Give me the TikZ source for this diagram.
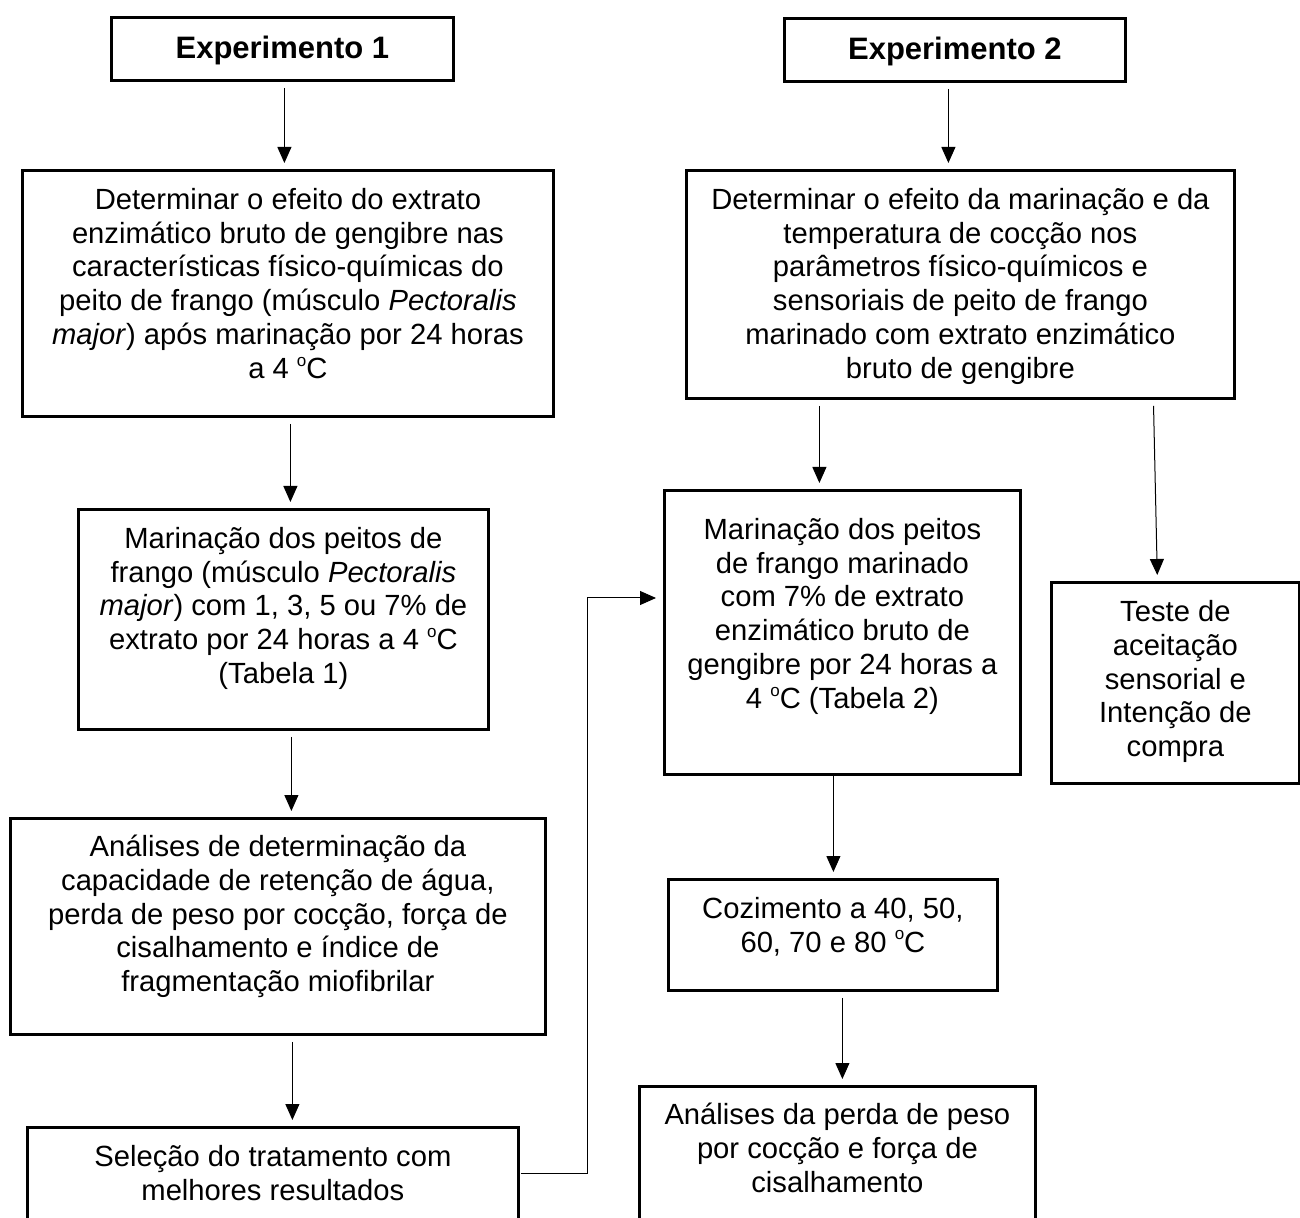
\documentclass[tikz,border=0pt]{standalone}
\usepackage{fontspec}
\setmainfont{Liberation Sans}
\usetikzlibrary{arrows.meta}
\newcommand{\fl}{\rule{0pt}{15pt}}
\newcommand{\dgc}{\raisebox{0.42em}{\fontsize{8.5}{8.5}\selectfont o}C}
\begin{document}
\begin{tikzpicture}[x=0.5pt,y=-0.5pt,
 box/.style={draw, line width=1.4pt, inner sep=0pt, anchor=north west},
 txt/.style={font=\fontsize{14.6}{16.9}\selectfont, align=center, inner sep=0pt, anchor=north},
 ttl/.style={font=\fontsize{15.5}{18}\selectfont\bfseries, inner sep=0pt, anchor=north},
 arr/.style={-{Triangle[length=8pt,width=7pt]}, line width=0.5pt, shorten <=3pt, shorten >=3pt}]
\clip (0,0) rectangle (1300,1218);
\fill[white] (0,0) rectangle (1300,1218);
% boxes
\node[box, minimum width=171pt, minimum height=31.5pt] (e1) at (110,16) {};
\node[box, minimum width=170.5pt, minimum height=31.5pt] (e2) at (783,17) {};
\node[box, minimum width=265.5pt, minimum height=123pt] (d1) at (21,169) {};
\node[box, minimum width=274pt, minimum height=114pt] (d2) at (685,169) {};
\node[box, minimum width=205pt, minimum height=110pt] (m1) at (77,508) {};
\node[box, minimum width=178pt, minimum height=142pt] (m2) at (663,489) {};
\node[box, minimum width=124pt, minimum height=100.5pt] (t) at (1050,581) {};
\node[box, minimum width=267.5pt, minimum height=108pt] (a1) at (9,817) {};
\node[box, minimum width=164.5pt, minimum height=55.5pt] (c) at (667,878) {};
\node[box, minimum width=245.5pt, minimum height=67pt] (s1) at (26,1126) {};
\node[box, minimum width=198pt, minimum height=87.5pt] (a2) at (638,1085) {};
% texts
\node[ttl] (e1t) at ([yshift=-6pt]e1.north) {\fl Experimento 1};
\node[ttl] (e2t) at ([yshift=-6pt]e2.north) {\fl Experimento 2};
\node[txt] (d1t) at ([yshift=-5pt]d1.north) {\fl Determinar o efeito do extrato\\
enzimático bruto de gengibre nas\\
características físico-químicas do\\
peito de frango (músculo \textit{Pectoralis}\\
\textit{major}) após marinação por 24 horas\\
a 4 \dgc};
\node[txt] (d2t) at ([yshift=-5pt]d2.north) {\fl Determinar o efeito da marinação e da\\
temperatura de cocção nos\\
parâmetros físico-químicos e\\
sensoriais de peito de frango\\
marinado com extrato enzimático\\
bruto de gengibre};
\node[txt] (m1t) at ([yshift=-5pt]m1.north) {\fl Marinação dos peitos de\\
frango (músculo \textit{Pectoralis}\\
\textit{major}) com 1, 3, 5 ou 7\% de\\
extrato por 24 horas a 4 \dgc\\
(Tabela 1)};
\node[txt] (m2t) at ([yshift=-10pt]m2.north) {\fl Marinação dos peitos\\
de frango marinado\\
com 7\% de extrato\\
enzimático bruto de\\
gengibre por 24 horas a\\
4 \dgc{} (Tabela 2)};
\node[txt] (tt) at ([yshift=-5pt]t.north) {\fl Teste de\\
aceitação\\
sensorial e\\
Intenção de\\
compra};
\node[txt] (a1t) at ([yshift=-4.5pt]a1.north) {\fl Análises de determinação da\\
capacidade de retenção de água,\\
perda de peso por cocção, força de\\
cisalhamento e índice de\\
fragmentação miofibrilar};
\node[txt] (ct) at ([yshift=-5pt]c.north) {\fl Cozimento a 40, 50,\\
60, 70 e 80 \dgc};
\node[txt] (s1t) at ([yshift=-5pt]s1.north) {\fl Seleção do tratamento com\\
melhores resultados};
\node[txt] (a2t) at ([yshift=-4.5pt]a2.north) {\fl Análises da perda de peso\\
por cocção e força de\\
cisalhamento};
% arrows
\draw[arr] ([xshift=1pt]e1.south) -- ([xshift=-1.75pt]d1.north);
\draw[arr] ([xshift=-3.25pt]e2.south) -- ([xshift=-6pt]d2.north);
\draw[arr] ([xshift=1.25pt]d1.south) -- ([xshift=3.5pt]m1.north);
\draw[arr] ([xshift=4pt]m1.south) -- ([xshift=6.75pt]a1.north);
\draw[arr] ([xshift=7.25pt]a1.south) -- ([xshift=9.75pt]s1.north);
\draw[arr] ([xshift=-70.5pt]d2.south) -- ([xshift=-11.5pt]m2.north);
\draw[arr] ([xshift=96.5pt]d2.south) -- ([xshift=-9pt]t.north);
\draw[arr, shorten <=0pt] ([xshift=-4.5pt]m2.south) -- ([xshift=0.25pt]c.north);
\draw[arr] ([xshift=4.75pt]c.south) -- ([xshift=2.5pt]a2.north);
\draw[arr, shorten <=0.5pt, shorten >=3.5pt] ([yshift=-23.5pt]s1.north east) -- ++(34pt,0) |- ([yshift=-54.5pt]m2.north west);
\end{tikzpicture}
\end{document}
